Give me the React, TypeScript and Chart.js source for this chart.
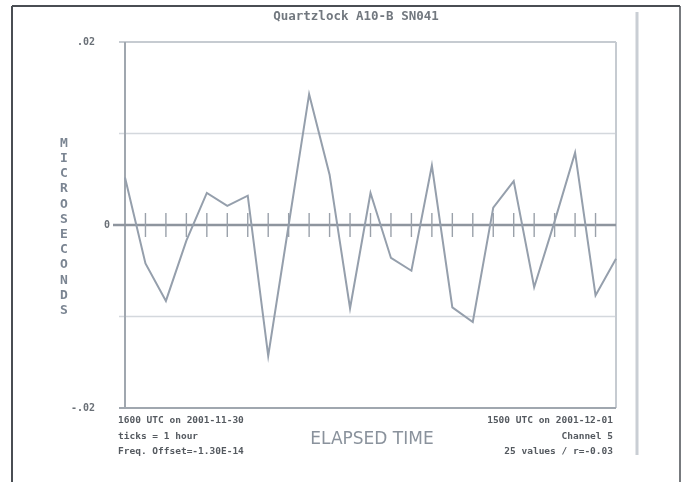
import { useEffect, useRef } from 'react';
import { Chart, registerables } from 'chart.js';

Chart.register(...registerables);

// hourly samples, 1600 UTC 2001-11-30 .. 1500 UTC 2001-12-01
const hours = [
  '16', '17', '18', '19', '20', '21', '22', '23', '00', '01', '02', '03', '04',
  '05', '06', '07', '08', '09', '10', '11', '12', '13', '14', '15', '15',
];
const offsets = [
  0.0052, -0.0042, -0.0083, -0.0017, 0.0035, 0.0021, 0.0032, -0.0143, 0.0,
  0.0143, 0.0055, -0.0091, 0.0035, -0.0036, -0.005, 0.0065, -0.009, -0.0106,
  0.0019, 0.0048, -0.0068, 0.0004, 0.0079, -0.0077, -0.0037,
];
const yTickValues = [0.02, 0, -0.02];
const yTickLabels = ['.02', '0', '-.02'];
const gridValues = [0.01, -0.01];

const titleText = 'Quartzlock A10-B SN041';
const yTitle = 'MICROSECONDS';
const xTitle = 'ELAPSED TIME';
const leftNotes = ['1600 UTC on 2001-11-30', 'ticks = 1 hour', 'Freq. Offset=-1.30E-14'];
const rightNotes = ['1500 UTC on 2001-12-01', 'Channel 5', '25 values / r=-0.03'];

const mono = '"DejaVu Sans Mono", "Liberation Mono", monospace';

function seg(ctx: CanvasRenderingContext2D, x1: number, y1: number, x2: number, y2: number) {
  ctx.beginPath();
  ctx.moveTo(x1, y1);
  ctx.lineTo(x2, y2);
  ctx.stroke();
}

const framePlugin = {
  id: 'frame',
  beforeDatasetsDraw(chart: any) {
    const { ctx, chartArea: a, scales } = chart;
    const x = scales.x;
    const y = scales.y;
    ctx.save();

    // light grid at +/- .01
    ctx.strokeStyle = '#d4d8dd';
    ctx.lineWidth = 1.5;
    gridValues.forEach(v => {
      const py = y.getPixelForValue(v);
      seg(ctx, a.left - 6, py, a.right, py);
    });

    // top and right border
    ctx.strokeStyle = '#c6cbd1';
    ctx.lineWidth = 2;
    seg(ctx, a.left - 6, a.top, a.right, a.top);
    seg(ctx, a.right, a.top, a.right, a.bottom);

    // left and bottom axes
    ctx.strokeStyle = '#a0a7af';
    seg(ctx, a.left, a.top, a.left, a.bottom);
    seg(ctx, a.left - 6, a.bottom, a.right, a.bottom);

    // zero line
    const zy = y.getPixelForValue(0);
    ctx.strokeStyle = '#8e959e';
    ctx.lineWidth = 2.5;
    seg(ctx, a.left - 12, zy, a.right, zy);

    // hour ticks
    ctx.strokeStyle = '#9aa1aa';
    ctx.lineWidth = 1.4;
    hours.forEach((_h, i) => {
      if (i === 0 || i === hours.length - 1) return;
      const px = x.getPixelForValue(i);
      seg(ctx, px, zy - 12, px, zy + 12);
    });
    ctx.restore();
  },
  afterDraw(chart: any) {
    const { ctx, chartArea: a, scales } = chart;
    const y = scales.y;
    ctx.save();

    // outer frame
    ctx.strokeStyle = '#4a4e53';
    ctx.lineWidth = 2;
    seg(ctx, 12, 6, 680, 6);
    seg(ctx, 12, 6, 12, 482);
    ctx.lineWidth = 1.5;
    seg(ctx, 680, 6, 680, 482);

    // stray vertical rule on the right
    ctx.strokeStyle = '#c9ced4';
    ctx.lineWidth = 3;
    seg(ctx, 637, 12, 637, 455);

    ctx.textBaseline = 'middle';

    // title
    ctx.fillStyle = '#72787f';
    ctx.font = `bold 12.5px ${mono}`;
    ctx.textAlign = 'center';
    ctx.fillText(titleText, 356, 17);

    // y tick labels
    ctx.fillStyle = '#6a7077';
    ctx.font = `bold 10px ${mono}`;
    ctx.textAlign = 'right';
    yTickValues.forEach((v, i) => {
      const px = v === 0 ? a.left - 15 : a.left - 30;
      ctx.fillText(yTickLabels[i], px, y.getPixelForValue(v));
    });

    // stacked y title
    ctx.fillStyle = '#7b8592';
    ctx.font = `bold 13px ${mono}`;
    ctx.textAlign = 'center';
    const letters = yTitle.split('');
    const step = 15.2;
    const startY = y.getPixelForValue(0) - ((letters.length - 1) * step) / 2 + 2;
    letters.forEach((ch, i) => ctx.fillText(ch, 64, startY + i * step));

    // notes under the plot
    ctx.fillStyle = '#555a60';
    ctx.font = `bold 9.5px ${mono}`;
    ctx.textAlign = 'left';
    leftNotes.forEach((t, i) => ctx.fillText(t, a.left - 7, 421 + i * 15.5));
    ctx.textAlign = 'right';
    rightNotes.forEach((t, i) => ctx.fillText(t, a.right - 3, 421 + i * 15.5));

    // x title
    ctx.fillStyle = '#8a929c';
    ctx.font = '17px "DejaVu Sans", sans-serif';
    ctx.textAlign = 'center';
    ctx.fillText(xTitle, 372, 440);

    ctx.restore();
  },
};

export default function App() {
  const canvasRef = useRef<HTMLCanvasElement>(null);
  const chartRef = useRef<Chart | null>(null);

  useEffect(() => {
    document.body.style.margin = '0';
    if (!canvasRef.current) return;

    if (chartRef.current) chartRef.current.destroy();

    chartRef.current = new Chart(canvasRef.current, {
      type: 'line',
      data: {
        labels: hours.map((h, i) => `${i}:${h}`),
        datasets: [
          {
            data: offsets,
            borderColor: '#959fac',
            borderWidth: 2,
            pointRadius: 0,
            tension: 0,
            fill: false,
          },
        ],
      },
      options: {
        animation: false,
        responsive: true,
        maintainAspectRatio: false,
        layout: { padding: { left: 125, right: 72, top: 42, bottom: 74 } },
        plugins: { legend: { display: false }, tooltip: { enabled: false } },
        scales: {
          x: { type: 'category', display: false, offset: false },
          y: { type: 'linear', display: false, min: -0.02, max: 0.02 },
        },
      },
      plugins: [framePlugin],
    });

    return () => {
      if (chartRef.current) {
        chartRef.current.destroy();
        chartRef.current = null;
      }
    };
  }, []);

  return (
    <div style={{ width: 688, height: 482, background: '#fff' }}>
      <canvas ref={canvasRef}></canvas>
    </div>
  );
}
